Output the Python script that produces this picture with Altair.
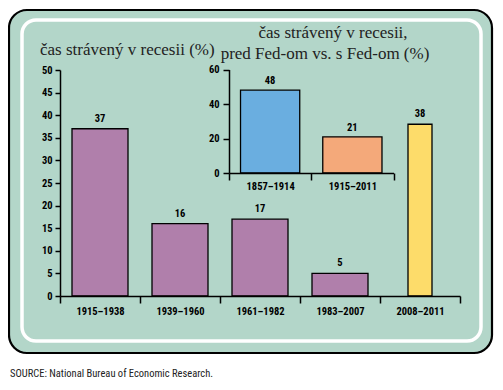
import altair as alt
import pandas as pd

# ---- data ----
main_periods = ["1915–1938", "1939–1960", "1961–1982", "1983–2007", "2008–2011"]
main_values = [37, 16, 17, 5, 38]
main_ticks = [0, 5, 10, 15, 20, 25, 30, 35, 40, 45, 50]

inset_periods = ["1857–1914", "1915–2011"]
inset_values = [48, 21]
inset_ticks = [0, 20, 40, 60]

main_title = "čas strávený v recesii (%)"
inset_title = ["čas strávený v recesii,", "pred Fed-om vs. s Fed-om (%)"]
source = "SOURCE: National Bureau of Economic Research."
highlight = "2008–2011"

# ---- style ----
W, H = 400, 226
LFONT = "Roboto Condensed, Liberation Sans Narrow, Roboto, sans-serif"
TFONT = "Liberation Serif, Times New Roman, serif"
TEAL = "#b3d6c9"
PURPLE = "#b07fab"
YELLOW = "#fddc6a"
BLUE = "#6aaee0"
ORANGE = "#f4a97a"

main_df = pd.DataFrame({"period": main_periods, "pct": main_values})
inset_df = pd.DataFrame({"era": inset_periods, "share": inset_values})
one = pd.DataFrame({"k": [0]})

axis_common = dict(
    title=None, grid=False, labelFont=LFONT, labelFontWeight="bold",
    labelFontSize=10.5, labelColor="black", domainColor="black",
    tickColor="black", domainWidth=1.5, tickWidth=1.5, zindex=2,
)

# ---- background panel ----
panel = alt.Chart(one).mark_rect(
    fill=TEAL, stroke="black", strokeWidth=2.2, cornerRadius=18
).encode(x=alt.value(-51), x2=alt.value(432), y=alt.value(-60), y2=alt.value(283))

inner = alt.Chart(one).mark_rect(
    fill=None, stroke="white", strokeWidth=3.5, cornerRadius=14
).encode(x=alt.value(-38), x2=alt.value(421), y=alt.value(-50), y2=alt.value(271))

# ---- main chart ----
xm = alt.X("period:N", sort=main_periods,
           scale=alt.Scale(paddingInner=0, paddingOuter=0),
           axis=alt.Axis(labelAngle=0, tickBand="extent", tickSize=7,
                         labelPadding=3, **axis_common))
ym = alt.Y("pct:Q", scale=alt.Scale(domain=[0, 50]),
           axis=alt.Axis(values=main_ticks, tickSize=5, labelPadding=3,
                         **axis_common))

base_main = alt.Chart(main_df)
bars_main = base_main.mark_bar(
    width=alt.RelativeBandSize(0.7), color=PURPLE, stroke="black", strokeWidth=1.3
).encode(x=xm, y=ym).transform_filter(alt.datum.period != highlight)
bar_hl = base_main.mark_bar(
    width=alt.RelativeBandSize(0.3), color=YELLOW, stroke="black", strokeWidth=1.3
).encode(x=xm, y=ym).transform_filter(alt.datum.period == highlight)
lab_main = base_main.mark_text(
    dy=-10, baseline="middle", font=LFONT, fontWeight="bold", fontSize=10.5, color="black"
).encode(x=xm, y=ym, text="pct:Q")

main = alt.layer(bars_main, bar_hl, lab_main)

# ---- inset chart ----
xi = alt.X("era:N", sort=inset_periods,
           scale=alt.Scale(range=[169, 333.5], paddingInner=0, paddingOuter=0),
           axis=alt.Axis(orient="bottom", offset=-123, labelAngle=0,
                         tickBand="extent", tickSize=7, labelPadding=1,
                         **axis_common))
yi = alt.Y("share:Q", scale=alt.Scale(domain=[0, 60], range=[103, -0.5]),
           axis=alt.Axis(orient="left", offset=-169, values=inset_ticks,
                         tickSize=6, labelPadding=4, **axis_common))

base_in = alt.Chart(inset_df)
bars_in = base_in.mark_bar(
    width=alt.RelativeBandSize(0.72), stroke="black", strokeWidth=1.3
).encode(
    x=xi, y=yi,
    color=alt.Color("era:N", scale=alt.Scale(domain=inset_periods, range=[BLUE, ORANGE]),
                    legend=None),
)
lab_in = base_in.mark_text(
    dy=-9, baseline="middle", font=LFONT, fontWeight="bold", fontSize=10.5, color="black"
).encode(x=xi, y=yi, text="share:Q")

inset = alt.layer(bars_in, lab_in)

# ---- texts ----
t_main = alt.Chart(one).mark_text(
    align="left", baseline="alphabetic", font=TFONT, fontSize=17, color="#222"
).encode(x=alt.value(-20), y=alt.value(-15), text=alt.value(main_title))
t_in1 = alt.Chart(one).mark_text(
    align="center", baseline="alphabetic", font=TFONT, fontSize=17, color="#222"
).encode(x=alt.value(273), y=alt.value(-32), text=alt.value(inset_title[0]))
t_in2 = alt.Chart(one).mark_text(
    align="center", baseline="alphabetic", font=TFONT, fontSize=17, color="#222"
).encode(x=alt.value(265), y=alt.value(-11), text=alt.value(inset_title[1]))
t_src = alt.Chart(one).mark_text(
    align="left", baseline="middle", font=LFONT, fontSize=10.5, color="#222"
).encode(x=alt.value(-50), y=alt.value(304), text=alt.value(source))

chart = alt.layer(
    panel, inner, main, inset, t_main, t_in1, t_in2, t_src
).resolve_scale(
    x="independent", y="independent", color="independent"
).resolve_axis(
    x="independent", y="independent"
).properties(
    width=W, height=H,
    autosize=alt.AutoSizeParams(type="none"),
    padding={"left": 52, "top": 62, "right": 35, "bottom": 86},
    background="white",
).configure_view(strokeWidth=0)

chart.save("out.html", embed_options={"renderer": "svg", "actions": False})
